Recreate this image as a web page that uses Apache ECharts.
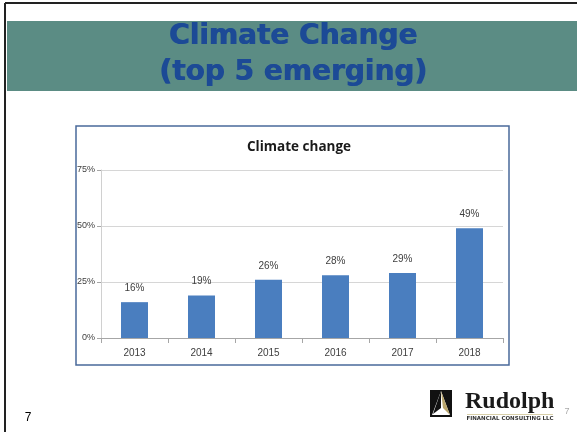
<!DOCTYPE html>
<html>
<head>
<meta charset="utf-8">
<script src="https://cdn.jsdelivr.net/npm/echarts@6/dist/echarts.min.js"></script>
<style>html,body{margin:0;padding:0;background:#fff;}#c{width:577px;height:432px;}</style>
</head>
<body>
<div id="c"></div>
<script>
var categories = ['2013', '2014', '2015', '2016', '2017', '2018'];
var values = [16, 19, 26, 28, 29, 49];
var yTicks = [0, 25, 50, 75];
var slideTitle = ['Climate Change', '(top 5 emerging)'];
var chartTitle = 'Climate change';

var chart = echarts.init(document.getElementById('c'), null, {renderer: 'canvas'});
var lab = 'Liberation Sans Narrow, Arial Narrow, sans-serif';
var hdrFont = 'bold 28px "DejaVu Sans", sans-serif';
var hdr = [];
[0, 0.8].forEach(function (dx) {
  hdr.push({type: 'text', style: {text: slideTitle[0], x: 293 + dx, y: 37, align: 'center', verticalAlign: 'middle',
    font: hdrFont, fill: '#1c4a96'}});
  hdr.push({type: 'text', style: {text: slideTitle[1], x: 293 + dx, y: 73, align: 'center', verticalAlign: 'middle',
    font: hdrFont, fill: '#1c4a96'}});
});
chart.setOption({
  animation: false,
  backgroundColor: '#fff',
  title: {
    text: chartTitle, left: 294, top: 135, textAlign: 'center',
    textStyle: {fontFamily: 'Open Sans, sans-serif', fontWeight: 'bold', fontSize: 13.5, color: '#1a1a1a'}
  },
  grid: {left: 101, right: 74, top: 170, bottom: 94},
  xAxis: {
    type: 'category', data: categories,
    axisLine: {lineStyle: {color: '#a6a6a6'}},
    axisTick: {show: true, length: 5, lineStyle: {color: '#a6a6a6'}},
    axisLabel: {fontFamily: lab, fontSize: 10, color: '#404040', margin: 10}
  },
  yAxis: {
    type: 'value', min: 0, max: 75, interval: 25,
    axisLine: {show: true, lineStyle: {color: '#d0d0d0'}},
    axisTick: {show: true, length: 4, lineStyle: {color: '#a6a6a6'}},
    splitLine: {lineStyle: {color: '#d6d6d6'}},
    axisLabel: {fontFamily: lab, fontSize: 9, color: '#404040', margin: 6,
      formatter: function (v) { return yTicks.indexOf(v) >= 0 ? v + '%' : ''; }}
  },
  series: [{
    type: 'bar', data: values, barWidth: 27,
    itemStyle: {color: '#4a7ebf'},
    label: {show: true, position: 'top', distance: 9, fontFamily: lab, fontSize: 10, color: '#404040',
      formatter: function (p) { return p.value + '%'; }}
  }],
  graphic: [
    {type: 'rect', z: -10, shape: {x: 7, y: 21, width: 570, height: 70}, style: {fill: '#5b8c84'}},
    {type: 'line', shape: {x1: 5, y1: 3, x2: 577, y2: 3}, style: {stroke: '#222', lineWidth: 2}},
    {type: 'line', shape: {x1: 5, y1: 3, x2: 5, y2: 432}, style: {stroke: '#222', lineWidth: 2}},
    {type: 'rect', shape: {x: 76, y: 126, width: 433, height: 239}, style: {fill: 'none', stroke: '#4a6a9a', lineWidth: 1.5}},
    {type: 'rect', shape: {x: 430, y: 390, width: 22, height: 27}, style: {fill: '#111'}},
    {type: 'polygon', shape: {points: [[441, 391], [432, 415], [450, 415]]}, style: {fill: '#fff'}},
    {type: 'polygon', shape: {points: [[441, 391], [450, 415], [443, 408]]}, style: {fill: '#b8a46a'}},
    {type: 'polygon', shape: {points: [[441, 391], [433, 414], [441, 408]]}, style: {fill: '#111'}},
    {type: 'text', style: {text: 'Rudolph', x: 465, y: 402, verticalAlign: 'middle',
      font: 'bold 24px "Liberation Serif", serif', fill: '#1a1a1a'}},
    {type: 'line', shape: {x1: 467, y1: 414.5, x2: 553, y2: 414.5}, style: {stroke: '#d8cfa8', lineWidth: 1}},
    {type: 'text', style: {text: 'FINANCIAL CONSULTING LLC', x: 510, y: 419, align: 'center', verticalAlign: 'middle',
      font: 'bold 5.5px "DejaVu Sans", sans-serif', fill: '#333'}},
    {type: 'text', style: {text: '7', x: 567, y: 412, align: 'center', verticalAlign: 'middle',
      font: '9px "Liberation Sans", sans-serif', fill: '#aaa'}},
    {type: 'text', style: {text: '7', x: 28, y: 418, align: 'center', verticalAlign: 'middle',
      font: '12px "Liberation Sans", sans-serif', fill: '#000'}}
  ].concat(hdr)
});
</script>
</body>
</html>
